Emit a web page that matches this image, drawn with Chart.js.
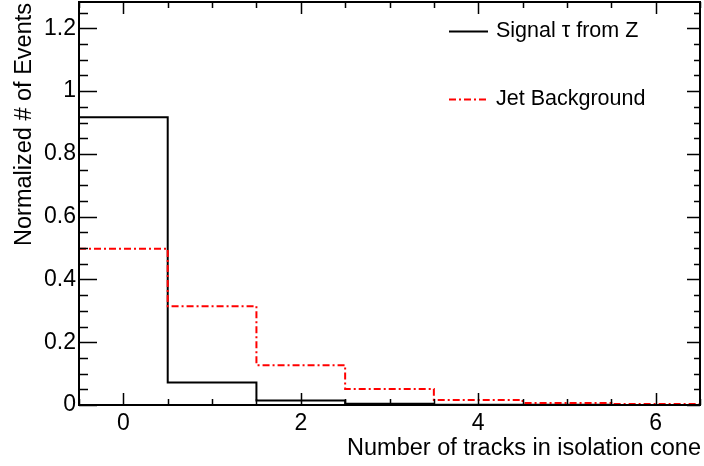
<!DOCTYPE html>
<html>
<head>
<meta charset="utf-8">
<script src="https://cdn.jsdelivr.net/npm/chart.js@4/dist/chart.umd.min.js"></script>
<style>
  html, body { margin: 0; padding: 0; background: #fff; }
  canvas { display: block; }
</style>
</head>
<body>
<canvas id="c" width="704" height="466"></canvas>
<script>
// number of tracks per bin (bin centres 0..6)
const trackBins = [0, 1, 2, 3, 4, 5, 6];
const signalValues = [0.917, 0.072, 0.014, 0.004, 0.001, 0.0005, 0.0003];
const jetValues = [0.498, 0.315, 0.127, 0.051, 0.016, 0.006, 0.003];
const xTickLabels = [0, 2, 4, 6];
const yTickLabels = [0, 0.2, 0.4, 0.6, 0.8, 1, 1.2];
const seriesNames = ['Signal \u03c4 from Z', 'Jet Background'];

const FONT = '"Liberation Sans", Arial, Helvetica, sans-serif';

// histogram outline: left edge of every bin, then the final right edge
const toSteps = (values) => {
	const pts = trackBins.map((b, i) => ({ x: b - 0.5, y: values[i] }));
	pts.push({ x: trackBins[trackBins.length - 1] + 0.5, y: values[values.length - 1] });
	return pts;
};

const redDash = [7, 3, 2, 3];

// ROOT-like frame: box, inward ticks on all sides, titles, legend
const FramePlugin = {
	id: 'frame',
	afterDatasetsDraw: (chart) => {
		const { ctx, chartArea: a, scales } = chart;
		const xs = scales.x, ys = scales.y;
		ctx.save();
		ctx.strokeStyle = '#000';
		ctx.lineWidth = 1.5;

		// x ticks (major every 2, minor every 0.5), bottom and top
		for (let v = -0.5; v <= 6.5001; v += 0.5) {
			const px = Math.round(xs.getPixelForValue(v)) + 0.5;
			const major = Math.abs(v / 2 - Math.round(v / 2)) < 1e-6;
			const len = major ? 12 : 6;
			ctx.beginPath();
			ctx.moveTo(px, a.bottom); ctx.lineTo(px, a.bottom - len);
			ctx.moveTo(px, a.top); ctx.lineTo(px, a.top + len);
			ctx.stroke();
		}
		// y ticks (major every 0.2, minor every 0.05), left and right
		for (let i = 0; i * 0.05 <= ys.max + 1e-9; i++) {
			const v = i * 0.05;
			const py = Math.round(ys.getPixelForValue(v)) + 0.5;
			const major = i % 4 === 0;
			ctx.beginPath();
			ctx.moveTo(a.left, py); ctx.lineTo(a.left + (major ? 18 : 9), py);
			ctx.moveTo(a.right, py); ctx.lineTo(a.right - (major ? 13 : 6), py);
			ctx.stroke();
		}

		ctx.lineWidth = 2;
		ctx.strokeRect(a.left, a.top, a.right - a.left, a.bottom - a.top);

		// axis titles
		ctx.fillStyle = '#000';
		ctx.font = '23.5px ' + FONT;
		ctx.textAlign = 'right';
		ctx.textBaseline = 'alphabetic';
		ctx.fillText('Number of tracks in isolation cone', 701, 455);

		ctx.save();
		ctx.translate(31, 3);
		ctx.rotate(-Math.PI / 2);
		ctx.textAlign = 'right';
		ctx.fillText('Normalized # of Events', 0, 0);
		ctx.restore();

		// legend
		const items = [
			{ label: seriesNames[0], color: '#000', dash: [], y: 31 },
			{ label: seriesNames[1], color: '#ff0000', dash: redDash, y: 99 }
		];
		ctx.font = '21.5px ' + FONT;
		ctx.textAlign = 'left';
		ctx.textBaseline = 'middle';
		items.forEach((it) => {
			ctx.beginPath();
			ctx.setLineDash(it.dash);
			ctx.strokeStyle = it.color;
			ctx.lineWidth = 2;
			ctx.moveTo(449, it.y + 0.5);
			ctx.lineTo(488, it.y + 0.5);
			ctx.stroke();
			ctx.setLineDash([]);
			ctx.fillText(it.label, 496, it.y);
		});
		ctx.restore();
	}
};

new Chart(document.getElementById('c').getContext('2d'), {
	type: 'line',
	data: {
		datasets: [
			{
				label: seriesNames[1],
				data: toSteps(jetValues),
				borderColor: '#ff0000',
				borderWidth: 2,
				borderDash: redDash,
				stepped: 'before',
				pointRadius: 0,
				fill: false
			},
			{
				label: seriesNames[0],
				data: toSteps(signalValues),
				borderColor: '#000',
				borderWidth: 2,
				stepped: 'before',
				pointRadius: 0,
				fill: false
			}
		]
	},
	options: {
		responsive: false,
		devicePixelRatio: 1,
		animation: false,
		layout: { padding: { top: 2, right: 4, left: 0, bottom: 0 } },
		plugins: {
			legend: { display: false },
			tooltip: { enabled: false },
			title: { display: false }
		},
		scales: {
			x: {
				type: 'linear',
				min: -0.5,
				max: 6.5,
				grid: { display: false, drawTicks: false },
				border: { display: false },
				afterBuildTicks: (scale) => { scale.ticks = xTickLabels.map((v) => ({ value: v })); },
				afterFit: (scale) => {
					scale.height = 61;
					scale.paddingLeft = 0;
					scale.paddingRight = 0;
				},
				ticks: {
					autoSkip: false,
					maxRotation: 0,
					padding: 5,
					color: '#000',
					font: { family: FONT, size: 23 },
					callback: (v) => String(v)
				}
			},
			y: {
				min: 0,
				max: 1.284,
				grid: { display: false, drawTicks: false },
				border: { display: false },
				afterBuildTicks: (scale) => { scale.ticks = yTickLabels.map((v) => ({ value: v })); },
				afterFit: (scale) => {
					scale.width = 79;
					scale.paddingTop = 0;
					scale.paddingBottom = 0;
				},
				ticks: {
					autoSkip: false,
					padding: 3,
					color: '#000',
					font: { family: FONT, size: 23 },
					callback: (v) => String(+v.toFixed(1))
				}
			}
		}
	},
	plugins: [FramePlugin]
});
</script>
</body>
</html>
